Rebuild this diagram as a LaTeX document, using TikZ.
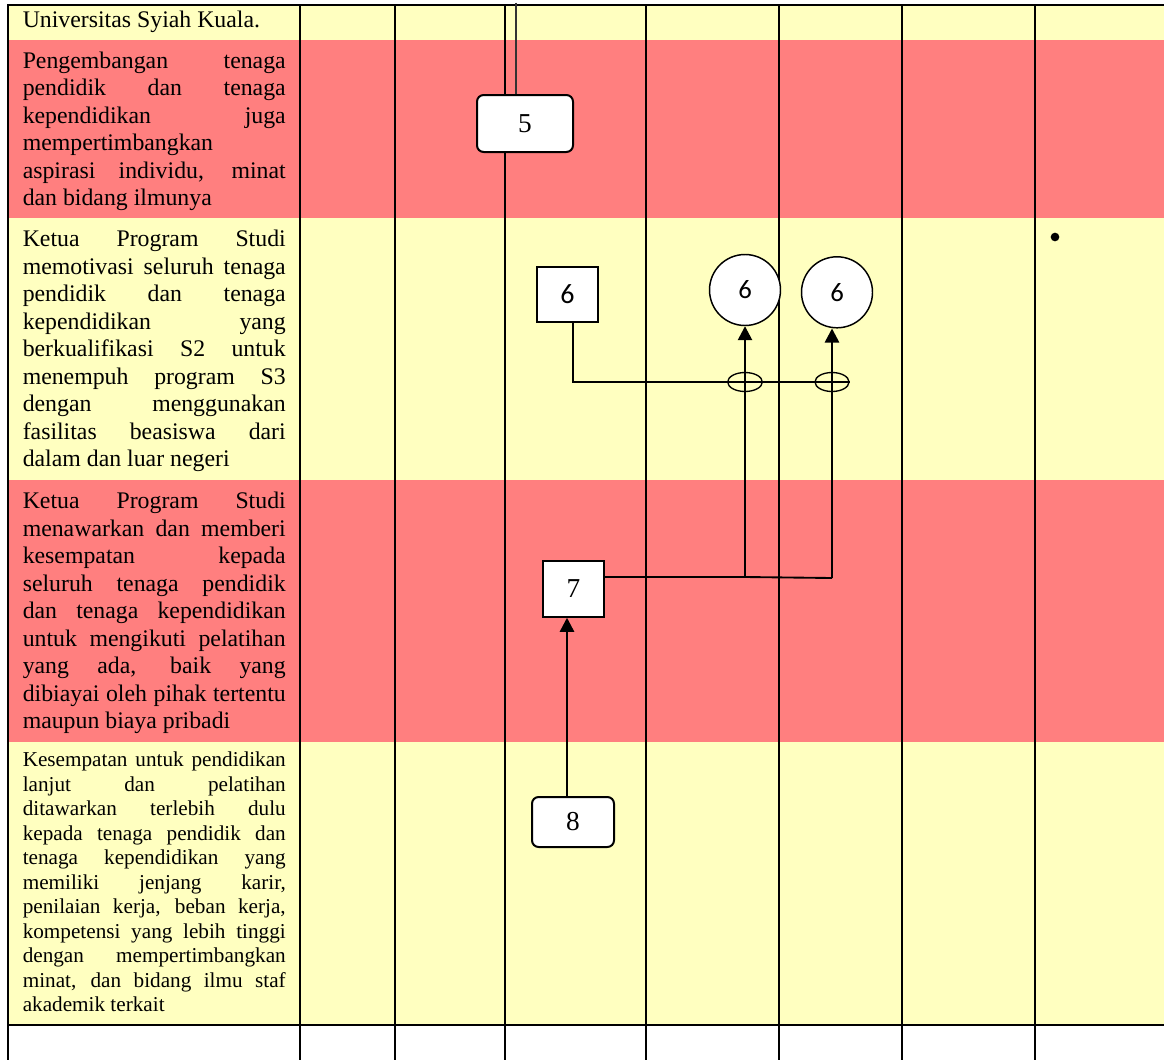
\documentclass[tikz,border=0pt]{standalone}
\usepackage{fontspec}
\setmainfont{Liberation Serif}
\newfontfamily\carl{Carlito}
\usetikzlibrary{arrows.meta,shapes.geometric}
\definecolor{rowy}{HTML}{FFFFC0}
\definecolor{rowr}{HTML}{FF7F7F}
\newlength\colw
\setlength\colw{197.25pt}
\newcommand\jl[1]{\makebox[\colw][s]{\strut #1}}
\newcommand\lastl[1]{\strut #1}
\begin{document}
\begin{tikzpicture}[x=0.75pt,y=-0.75pt,
  grid/.style={line width=1.5pt},
  conn/.style={line width=1.4pt},
  thinc/.style={line width=0.9pt, black!80},
  arr/.style={-{Triangle[width=10.7pt,length=10.5pt]}},
  txt/.style={inner sep=0pt, align=left, font=\fontsize{17.85}{20.625}\selectfont},
  txts/.style={inner sep=0pt, align=left, font=\fontsize{15.9}{18.375}\selectfont},
  rbox/.style={draw, fill=white, rounded corners=5pt, line width=1.5pt, inner sep=0pt, font=\fontsize{20.5}{24}\selectfont},
  sbox/.style={draw, fill=white, line width=1.2pt, inner sep=0pt, font=\fontsize{20.5}{24}\selectfont},
  cnode/.style={draw, fill=white, circle, line width=1.1pt, inner sep=0pt, minimum size=53.25pt, font=\carl\fontsize{20}{24}\selectfont},
  xnode/.style={draw, ellipse, line width=1pt, inner sep=0pt, minimum width=26pt, minimum height=14.25pt}
]
\useasboundingbox (0,0) rectangle (1164,1060);
% row bands
\fill[rowy] (8,5) rectangle (1164,40);
\fill[rowr] (8,40) rectangle (1164,218);
\fill[rowy] (8,218) rectangle (1164,480);
\fill[rowr] (8,480) rectangle (1164,742);
\fill[rowy] (8,742) rectangle (1164,1025);
% grid
\foreach \x in {8,300,395,505,646,778.5,902,1035}
  \draw[grid] (\x,5) -- (\x,1060);
\draw[grid] (7,5) -- (1164,5);
\draw[grid] (7,1025) -- (1164,1025);

% left column texts
\node[txt, anchor=base west] (t1) at (22.5,27.3) {Universitas Syiah Kuala.};
\node[txt, anchor=north west] (t2) at (22.5,48.75) {%
\jl{Pengembangan tenaga}\\
\jl{pendidik dan tenaga}\\
\jl{kependidikan juga}\\
\lastl{mempertimbangkan}\\
\jl{aspirasi individu, minat}\\
\lastl{dan bidang ilmunya}};
\node[txt, anchor=north west] (t3) at (22.5,227.45) {%
\jl{Ketua Program Studi}\\
\jl{memotivasi seluruh tenaga}\\
\jl{pendidik dan tenaga}\\
\jl{kependidikan yang}\\
\jl{berkualifikasi S2 untuk}\\
\jl{menempuh program S3}\\
\jl{dengan menggunakan}\\
\jl{fasilitas beasiswa dari}\\
\lastl{dalam dan luar negeri}};
\node[txt, anchor=north west] (t4) at (22.5,489.45) {%
\jl{Ketua Program Studi}\\
\jl{menawarkan dan memberi}\\
\jl{kesempatan kepada}\\
\jl{seluruh tenaga pendidik}\\
\jl{dan tenaga kependidikan}\\
\jl{untuk mengikuti pelatihan}\\
\jl{yang ada, baik yang}\\
\jl{dibiayai oleh pihak tertentu}\\
\lastl{maupun biaya pribadi}};
\node[txts, anchor=north west] (t5) at (22.5,749.55) {%
\jl{Kesempatan untuk pendidikan}\\
\jl{lanjut dan pelatihan}\\
\jl{ditawarkan terlebih dulu}\\
\jl{kepada tenaga pendidik dan}\\
\jl{tenaga kependidikan yang}\\
\jl{memiliki jenjang karir,}\\
\jl{penilaian kerja, beban kerja,}\\
\jl{kompetensi yang lebih tinggi}\\
\jl{dengan mempertimbangkan}\\
\jl{minat, dan bidang ilmu staf}\\
\lastl{akademik terkait}};

% flow nodes
\node[rbox, minimum width=72pt, minimum height=42.75pt] (b5) at (525,123.5) {5};
\node[sbox, line width=1pt, minimum width=45.75pt, minimum height=41.25pt, font=\carl\fontsize{21}{24}\selectfont] (b6) at (567.5,294.5) {6};
\node[cnode] (c1) at (745,290) {6};
\node[cnode] (c2) at (837,292.3) {6};
\node[xnode] (e1) at (745,382) {};
\node[xnode, minimum width=25.5pt] (e2) at (832,382) {};
\node[sbox, minimum width=45.75pt, minimum height=42pt] (b7) at (573.5,589) {7};
\node[rbox, minimum width=61.5pt, minimum height=37.5pt] (b8) at (573,822) {8};
\node[circle, fill=black, inner sep=0pt, minimum size=6.5pt] (bul) at (1055,237) {};

% connectors
\coordinate (top5) at (516,2.5);
\draw[thinc] (top5) -- (top5 |- b5.north);
\draw[conn] ([xshift=4.125pt]b6.south) |- (e2.east);
\coordinate (j1) at (745,577);
\coordinate (j2) at (832,578);
\draw[conn] (b7.east |- j1) -- (j1) -- (j2);
\draw[conn,arr] (j1) -- (c1.south);
\draw[conn,arr] (j2) -- (j2 |- c2.south);
\coordinate (ax) at (567,700);
\draw[conn,arr] (b8.north -| ax) -- (b7.south -| ax);
\end{tikzpicture}
\end{document}
